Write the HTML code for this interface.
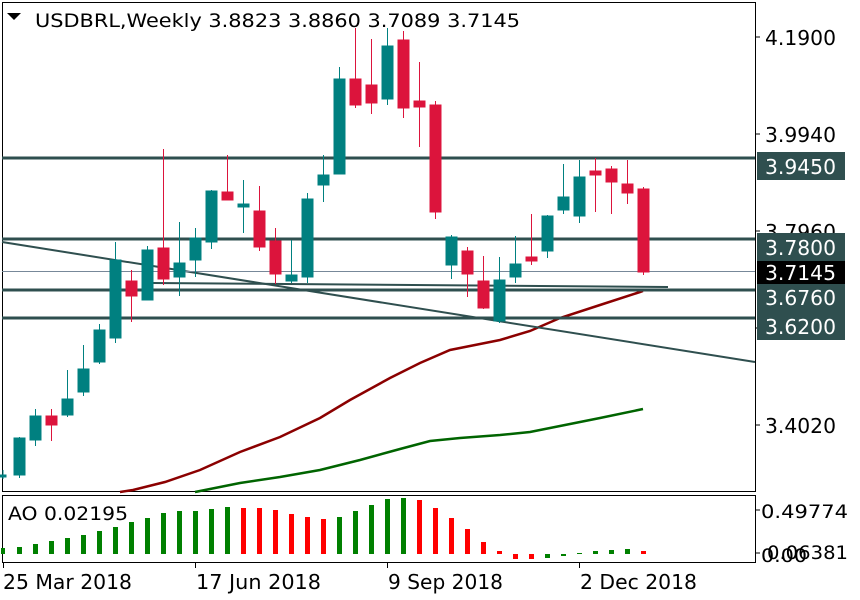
<!DOCTYPE html>
<html><head><meta charset="utf-8"><style>
html,body{margin:0;padding:0;background:#fff;}
svg{display:block;font-family:"DejaVu Sans","Liberation Sans",sans-serif;}
</style></head><body>
<svg width="860" height="600" viewBox="0 0 860 600" xmlns="http://www.w3.org/2000/svg">
<rect width="860" height="600" fill="#fff"/>
<rect x="2.5" y="2.5" width="753" height="489" fill="none" stroke="#000" stroke-width="1"/>
<rect x="2.5" y="495.5" width="753" height="67" fill="none" stroke="#000" stroke-width="1"/>

<polyline fill="none" stroke="#8B0000" stroke-width="2.5" points="120,492 133,490 165,482 200,470 240,452 280,437 320,418 350,400 390,378 420,363 450,350 480,344 500,340 530,331 560,318 600,305 640,292 643,291"/>
<polyline fill="none" stroke="#006400" stroke-width="2.5" points="195,492 205,490 240,483 280,477 320,470 360,460 400,449 430,441 460,438 500,435 530,432 560,426 600,418 643,409"/>

<g stroke="#2F4F4F" stroke-width="3">
<line x1="2" y1="158" x2="755" y2="158"/>
<line x1="2" y1="239" x2="755" y2="239"/>
<line x1="2" y1="290" x2="755" y2="290"/>
<line x1="2" y1="318" x2="755" y2="318"/>
</g>
<line x1="2" y1="242" x2="755" y2="362" stroke="#2F4F4F" stroke-width="2"/>
<line x1="153" y1="283" x2="668" y2="287" stroke="#2F4F4F" stroke-width="2"/>
<line x1="2" y1="271.5" x2="755" y2="271.5" stroke="#778899" stroke-width="1"/>

<g fill="#008080" stroke="#008080">
<line x1="3" y1="470" x2="3" y2="479"/><rect x="0" y="475" width="6" height="2"/>
<line x1="19.5" y1="437" x2="19.5" y2="478"/><rect x="14" y="438" width="11" height="37"/>
<line x1="35.5" y1="409" x2="35.5" y2="446"/><rect x="30" y="416" width="11" height="24"/>
<line x1="67.5" y1="370" x2="67.5" y2="417"/><rect x="62" y="399" width="11" height="16"/>
<line x1="83.5" y1="345" x2="83.5" y2="396"/><rect x="78" y="369" width="11" height="23"/>
<line x1="99.5" y1="324" x2="99.5" y2="364"/><rect x="94" y="330" width="11" height="32"/>
<line x1="115.5" y1="242" x2="115.5" y2="343"/><rect x="110" y="260" width="11" height="78"/>
<line x1="147.5" y1="246" x2="147.5" y2="300"/><rect x="142" y="250" width="11" height="50"/>
<line x1="179.5" y1="222" x2="179.5" y2="296"/><rect x="174" y="263" width="11" height="14"/>
<line x1="195.5" y1="228" x2="195.5" y2="277"/><rect x="190" y="238" width="11" height="22"/>
<line x1="211.5" y1="190" x2="211.5" y2="249"/><rect x="206" y="191" width="11" height="51"/>
<line x1="243.5" y1="180" x2="243.5" y2="233"/><rect x="238" y="204" width="11" height="3"/>
<line x1="291.5" y1="240" x2="291.5" y2="283"/><rect x="286" y="275" width="11" height="6"/>
<line x1="307.5" y1="193" x2="307.5" y2="283"/><rect x="302" y="199" width="11" height="78"/>
<line x1="323.5" y1="155" x2="323.5" y2="202"/><rect x="318" y="175" width="11" height="10"/>
<line x1="339.5" y1="67" x2="339.5" y2="174"/><rect x="334" y="79" width="11" height="95"/>
<line x1="387.5" y1="28" x2="387.5" y2="105"/><rect x="382" y="46" width="11" height="53"/>
<line x1="451.5" y1="235" x2="451.5" y2="279"/><rect x="446" y="237" width="11" height="28"/>
<line x1="499.5" y1="257" x2="499.5" y2="323"/><rect x="494" y="280" width="11" height="41"/>
<line x1="515.5" y1="236" x2="515.5" y2="283"/><rect x="510" y="264" width="11" height="13"/>
<line x1="547.5" y1="215" x2="547.5" y2="258"/><rect x="542" y="216" width="11" height="35"/>
<line x1="563.5" y1="164" x2="563.5" y2="214"/><rect x="558" y="197" width="11" height="13"/>
<line x1="579.5" y1="160" x2="579.5" y2="223"/><rect x="574" y="177" width="11" height="39"/>
</g>
<g fill="#DC143C" stroke="#DC143C">
<line x1="51.5" y1="409" x2="51.5" y2="441"/><rect x="46" y="416" width="11" height="9"/>
<line x1="131.5" y1="270" x2="131.5" y2="322"/><rect x="126" y="281" width="11" height="15"/>
<line x1="163.5" y1="149" x2="163.5" y2="285"/><rect x="158" y="248" width="11" height="31"/>
<line x1="227.5" y1="155" x2="227.5" y2="200"/><rect x="222" y="192" width="11" height="8"/>
<line x1="259.5" y1="186" x2="259.5" y2="251"/><rect x="254" y="211" width="11" height="36"/>
<line x1="275.5" y1="228" x2="275.5" y2="284"/><rect x="270" y="241" width="11" height="33"/>
<line x1="355.5" y1="28" x2="355.5" y2="108"/><rect x="350" y="79" width="11" height="26"/>
<line x1="371.5" y1="39" x2="371.5" y2="114"/><rect x="366" y="85" width="11" height="18"/>
<line x1="403.5" y1="31" x2="403.5" y2="118"/><rect x="398" y="40" width="11" height="68"/>
<line x1="419.5" y1="62" x2="419.5" y2="147"/><rect x="414" y="101" width="11" height="6"/>
<line x1="435.5" y1="101" x2="435.5" y2="219"/><rect x="430" y="105" width="11" height="107"/>
<line x1="467.5" y1="247" x2="467.5" y2="297"/><rect x="462" y="251" width="11" height="23"/>
<line x1="483.5" y1="256" x2="483.5" y2="309"/><rect x="478" y="281" width="11" height="27"/>
<line x1="531.5" y1="214" x2="531.5" y2="265"/><rect x="526" y="257" width="11" height="4"/>
<line x1="595.5" y1="158" x2="595.5" y2="212"/><rect x="590" y="171" width="11" height="4"/>
<line x1="611.5" y1="166" x2="611.5" y2="214"/><rect x="606" y="169" width="11" height="13"/>
<line x1="627.5" y1="160" x2="627.5" y2="204"/><rect x="622" y="184" width="11" height="9"/>
<line x1="643.5" y1="187" x2="643.5" y2="275"/><rect x="638" y="189" width="11" height="83"/>
</g>

<polygon points="7,13 21,13 14,20" fill="#000"/>
<text x="35" y="27" font-size="19" fill="#000" textLength="485" lengthAdjust="spacingAndGlyphs">USDBRL,Weekly  3.8823 3.8860 3.7089 3.7145</text>

<g stroke="#000"><line x1="755" y1="37" x2="760" y2="37"/><line x1="755" y1="134" x2="760" y2="134"/><line x1="755" y1="231" x2="760" y2="231"/><line x1="755" y1="425" x2="760" y2="425"/><line x1="755" y1="328" x2="760" y2="328"/></g>
<g font-size="20" fill="#000">
<text x="765" y="45" textLength="71" lengthAdjust="spacingAndGlyphs">4.1900</text>
<text x="765" y="142" textLength="71" lengthAdjust="spacingAndGlyphs">3.9940</text>
<text x="765" y="239" textLength="71" lengthAdjust="spacingAndGlyphs">3.7960</text>
<text x="765" y="433" textLength="71" lengthAdjust="spacingAndGlyphs">3.4020</text>
</g>
<rect x="757" y="152" width="88" height="28" fill="#2F4F4F"/>
<rect x="757" y="233" width="88" height="28" fill="#2F4F4F"/>
<rect x="757" y="261" width="88" height="23" fill="#000"/>
<rect x="757" y="284" width="88" height="56" fill="#2F4F4F"/>
<g font-size="20" fill="#fff">
<text x="765" y="174" textLength="71" lengthAdjust="spacingAndGlyphs">3.9450</text>
<text x="765" y="255" textLength="71" lengthAdjust="spacingAndGlyphs">3.7800</text>
<text x="765" y="280" textLength="71" lengthAdjust="spacingAndGlyphs">3.7145</text>
<text x="765" y="305" textLength="71" lengthAdjust="spacingAndGlyphs">3.6760</text>
<text x="765" y="334" textLength="71" lengthAdjust="spacingAndGlyphs">3.6200</text>
</g>

<g fill="#008000">
<rect x="1" y="548" width="4" height="6"/>
<rect x="17" y="547" width="5" height="7"/>
<rect x="33" y="544" width="5" height="10"/>
<rect x="49" y="541" width="5" height="13"/>
<rect x="65" y="538" width="5" height="16"/>
<rect x="81" y="535" width="5" height="19"/>
<rect x="97" y="531" width="5" height="23"/>
<rect x="113" y="527" width="5" height="27"/>
<rect x="129" y="522" width="5" height="32"/>
<rect x="145" y="518" width="5" height="36"/>
<rect x="161" y="513" width="5" height="41"/>
<rect x="177" y="511" width="5" height="43"/>
<rect x="193" y="511" width="5" height="43"/>
<rect x="209" y="509" width="5" height="45"/>
<rect x="225" y="507" width="5" height="47"/>
<rect x="337" y="517" width="5" height="37"/>
<rect x="353" y="511" width="5" height="43"/>
<rect x="369" y="505" width="5" height="49"/>
<rect x="385" y="499" width="5" height="55"/>
<rect x="401" y="498" width="5" height="56"/>
<rect x="545" y="554" width="5" height="4"/>
<rect x="561" y="554" width="5" height="2"/>
<rect x="577" y="553" width="5" height="1"/>
<rect x="593" y="551" width="5" height="3"/>
<rect x="609" y="550" width="5" height="4"/>
<rect x="625" y="549" width="5" height="5"/>
</g>
<g fill="#FF0000">
<rect x="241" y="508" width="5" height="46"/>
<rect x="257" y="508" width="5" height="46"/>
<rect x="273" y="510" width="5" height="44"/>
<rect x="289" y="514" width="5" height="40"/>
<rect x="305" y="517" width="5" height="37"/>
<rect x="321" y="519" width="5" height="35"/>
<rect x="417" y="500" width="5" height="54"/>
<rect x="433" y="508" width="5" height="46"/>
<rect x="449" y="518" width="5" height="36"/>
<rect x="465" y="529" width="5" height="25"/>
<rect x="481" y="542" width="5" height="12"/>
<rect x="497" y="551" width="5" height="3"/>
<rect x="513" y="554" width="5" height="5"/>
<rect x="529" y="554" width="5" height="5"/>
<rect x="641" y="551" width="5" height="3"/>
</g>
<text x="8" y="520" font-size="19" fill="#000" textLength="120" lengthAdjust="spacingAndGlyphs">AO 0.02195</text>
<g stroke="#000"><line x1="755" y1="510" x2="760" y2="510"/><line x1="755" y1="553" x2="760" y2="553"/></g>
<g font-size="19" fill="#000">
<text x="761" y="518" textLength="87" lengthAdjust="spacingAndGlyphs">0.49774</text>
<text x="767" y="559" textLength="81" lengthAdjust="spacingAndGlyphs">0.06381</text>
<text x="761" y="562" textLength="46" lengthAdjust="spacingAndGlyphs">0.00</text>
</g>

<g stroke="#000"><line x1="3.5" y1="563" x2="3.5" y2="568"/><line x1="195.5" y1="563" x2="195.5" y2="568"/><line x1="387.5" y1="563" x2="387.5" y2="568"/><line x1="579.5" y1="563" x2="579.5" y2="568"/></g>
<g font-size="20" fill="#000">
<text x="3" y="589" textLength="129" lengthAdjust="spacingAndGlyphs">25 Mar 2018</text>
<text x="196" y="589" textLength="125" lengthAdjust="spacingAndGlyphs">17 Jun 2018</text>
<text x="388" y="589" textLength="115" lengthAdjust="spacingAndGlyphs">9 Sep 2018</text>
<text x="580" y="589" textLength="117" lengthAdjust="spacingAndGlyphs">2 Dec 2018</text>
</g>
</svg>
</body></html>
